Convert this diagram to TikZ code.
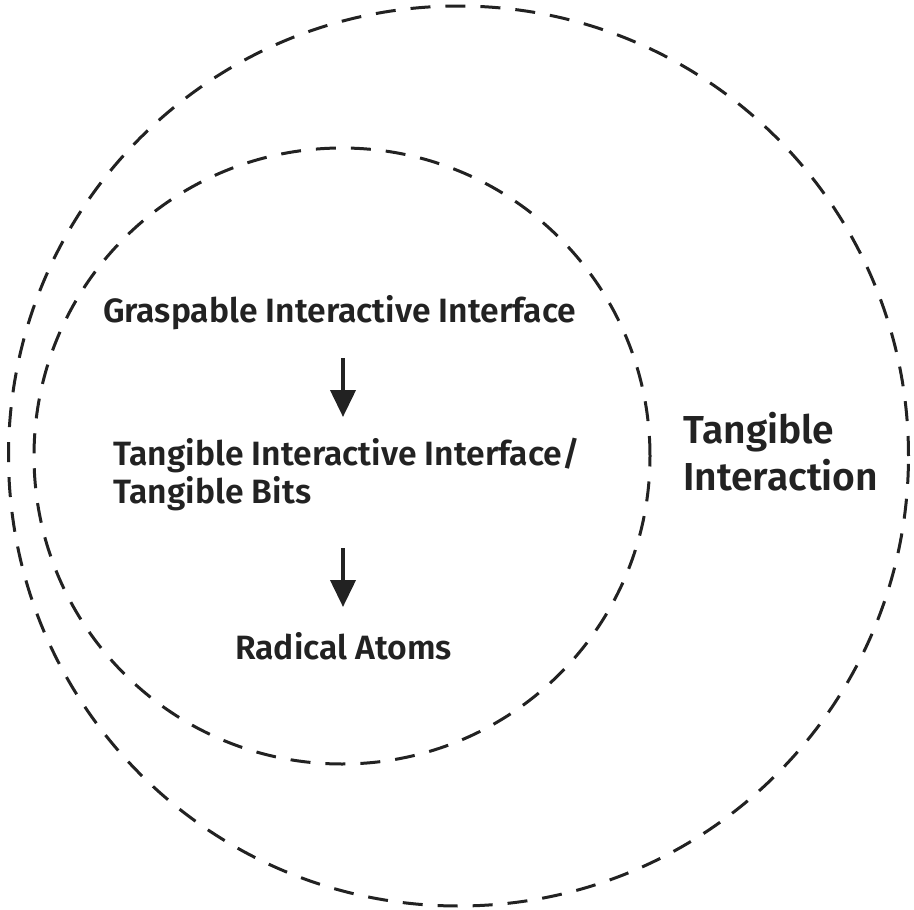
\documentclass[tikz,border=0pt]{standalone}
\usepackage{fontspec}
\setmainfont{Fira Sans SemiBold}
\usetikzlibrary{arrows.meta}
\definecolor{ink}{HTML}{222222}
\tikzset{
  ring/.style={draw=ink, line width=3pt, dash pattern=on 20pt off 15pt, circle, inner sep=0pt},
  lbl/.style={inner sep=0pt, text=ink, font=\fontsize{33.7}{38}\selectfont},
  biglbl/.style={inner sep=0pt, text=ink, font=\fontsize{39}{47}\selectfont, align=left},
  flow/.style={draw=ink, line width=4pt, -{Triangle[length=27pt,width=25pt]}}
}
\begin{document}
\begin{tikzpicture}[x=1pt,y=-1pt]
\useasboundingbox (0,0) rectangle (914,910);
\node[ring, minimum size=900pt] (outer) at (458.5,456) {};
\node[ring, minimum size=616pt] (inner) at (342,456) {};
\node[lbl, anchor=base] (g) at (339.5,322) {Graspable Interactive Interface};
\node[lbl, anchor=base west] (t1) at (113,465) {Tangible Interactive Interface/};
\node[lbl, anchor=base west] (t2) at (113,503) {Tangible Bits};
\node[lbl, anchor=base] (r) at (343.5,659) {Radical Atoms};
\node[biglbl, anchor=base west] (ti1) at (683,443) {Tangible};
\node[biglbl, anchor=base west] (ti2) at (683,490) {Interaction};
\coordinate (a1s) at (343,358);
\coordinate (a1e) at (343,417);
\coordinate (a2s) at (343,548);
\coordinate (a2e) at (343,607);
\draw[flow] (a1s) -- (a1e);
\draw[flow] (a2s) -- (a2e);
\end{tikzpicture}
\end{document}
